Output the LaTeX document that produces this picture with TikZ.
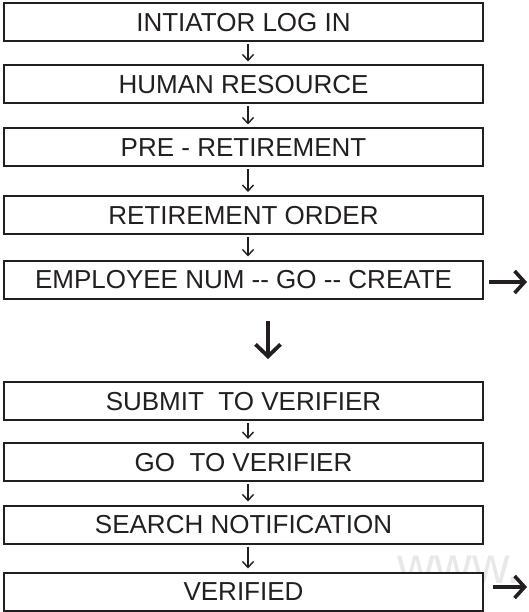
\documentclass[tikz,border=0pt]{standalone}
\usepackage{fontspec}
\setmainfont{Liberation Sans}
\usetikzlibrary{arrows.meta}
\definecolor{ink}{HTML}{231F20}
\begin{document}
\begin{tikzpicture}[x=1pt,y=-1pt,
  stepbox/.style={draw=ink, line width=2pt, fill=white, rectangle,
    minimum width=479pt, minimum height=38pt, inner sep=0pt,
    text height=18.6pt, text depth=0pt, text=ink,
    font=\fontsize{26}{30}\selectfont},
  thinarrow/.style={draw=ink, line width=1.4pt, -{Straight Barb[length=6pt,width=11pt]}},
  bigarrow/.style={draw=ink, line width=3.8pt, -{Straight Barb[length=12pt,width=25pt]}},
  sidearrow/.style={draw=ink, line width=3.6pt, -{Straight Barb[length=10pt,width=22pt]}}]
\useasboundingbox (0,0) rectangle (528,612);
\clip (0,0) rectangle (528,612);
\node[anchor=base west, text=black!9, font=\fontsize{52}{60}\selectfont, inner sep=0pt] (wm) at (397,583) {www.};
\node[stepbox] (b1) at (243.5,22) {INTIATOR LOG IN};
\node[stepbox] (b2) at (243.5,84.5) {HUMAN RESOURCE};
\node[stepbox] (b3) at (243.5,147.5) {PRE - RETIREMENT};
\node[stepbox] (b4) at (243.5,215) {RETIREMENT ORDER};
\node[stepbox] (b5) at (243.5,279.5) {EMPLOYEE NUM -{}- GO -{}- CREATE};
\node[stepbox] (b6) at (243.5,401) {SUBMIT\ \ TO VERIFIER};
\node[stepbox] (b7) at (243.5,462) {GO\ \ TO VERIFIER};
\node[stepbox] (b8) at (243.5,524.5) {SEARCH NOTIFICATION};
\node[stepbox] (b9) at (243.5,591.5) {VERIFIED};
\coordinate (e1) at (527,282);
\coordinate (e2) at (527,587);
\foreach \a/\b in {b1/b2,b2/b3,b3/b4,b4/b5,b6/b7,b7/b8,b8/b9}{
  \draw[thinarrow, shorten <=2pt, shorten >=3pt] ([xshift=4.5pt]\a.south) -- ([xshift=4.5pt]\b.north);
}
\draw[bigarrow, shorten <=21pt, shorten >=22pt] ([xshift=24.5pt]b5.south) -- ([xshift=24.5pt]b6.north);
\draw[sidearrow, shorten <=5pt] ([yshift=-2.5pt]b5.east) -- (e1);
\draw[sidearrow, shorten <=9pt] ([yshift=4.5pt]b9.east) -- (e2);
\end{tikzpicture}
\end{document}
